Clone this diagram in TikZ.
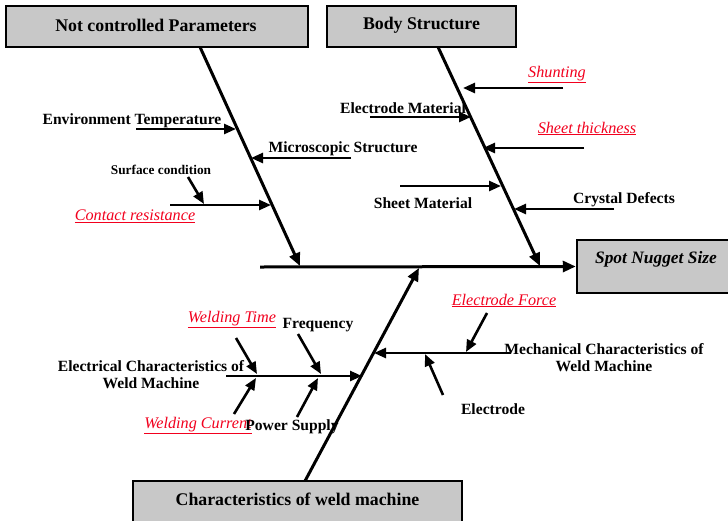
\documentclass[tikz,border=0pt]{standalone}
\usepackage{fontspec}
\setmainfont{Liberation Serif}
\usetikzlibrary{arrows.meta}
\definecolor{boxgray}{HTML}{C8C8C8}
\definecolor{lblred}{HTML}{F2001E}
\newcommand{\rl}[1]{\underline{#1}}
\begin{document}
\begin{tikzpicture}[x=1pt,y=-1pt,
  catbox/.style={draw=black, line width=2.5pt, fill=boxgray, inner sep=0pt},
  cattext/.style={font=\fontsize{17.8}{20}\selectfont\bfseries, inner sep=0pt},
  bone/.style={line width=3pt, -{Triangle[length=13pt,width=11pt]}},
  sub/.style={line width=2.6pt, -{Triangle[length=12pt,width=10pt]}},
  lbl/.style={font=\fontsize{15.6}{17}\selectfont\bfseries, inner sep=0pt, align=center, yshift=-2pt},
  slbl/.style={font=\fontsize{13.3}{15}\selectfont\bfseries, inner sep=0pt, yshift=-1pt},
  rlbl/.style={font=\fontsize{16.2}{18}\selectfont\itshape, text=lblred, inner sep=0pt, yshift=-1.5pt},
]
\useasboundingbox[fill=white] (0,0) rectangle (728,520);

% category boxes
\node[catbox, minimum width=302pt, minimum height=41pt] (ncp) at (157,26.5) {};
\node[cattext] (ncpt) at (156,25) {Not controlled Parameters};
\node[catbox, minimum width=189pt, minimum height=41pt] (bs) at (421.5,26.5) {};
\node[cattext] (bst) at (421.5,25) {Body Structure};
\node[catbox, minimum width=170pt, minimum height=53pt] (sns) at (662,266.5) {};
\node[cattext, font=\fontsize{17.4}{20}\selectfont\bfseries\itshape] (snst) at (656,259) {Spot Nugget Size};
\node[catbox, minimum width=329pt, minimum height=60pt] (cwm) at (297.5,511) {};
\node[cattext] (cwmt) at (297.5,499) {Characteristics of weld machine};

% spine and main bones
\coordinate (spL) at (260,267);
\coordinate (b1) at (300,266);
\coordinate (b2) at (540,266);
\coordinate (b3) at (419,268);
\draw[bone] (spL) -- (sns.west);
\draw[bone] (200,47) coordinate (b1s) -- (b1);
\draw[bone] (438,47) coordinate (b2s) -- (b2);
\draw[bone] (305,481) coordinate (b3s) -- (b3);

% --- Not controlled parameters
\node[lbl] (envT) at (132,119) {Environment Temperature};
\coordinate (envS) at (136,129); \coordinate (envE) at (236,129);
\draw[sub] (envS) -- (envE);
\node[lbl] (mic) at (343,147) {Microscopic Structure};
\coordinate (micS) at (351,158); \coordinate (micE) at (251,158);
\draw[sub] (micS) -- (micE);
\node[slbl] (surf) at (161,169) {Surface condition};
\node[rlbl] (cres) at (135,215) {\rl{Contact resistance}};
\coordinate (cresS) at (170,205); \coordinate (cresE) at (271,205);
\draw[sub] (cresS) -- (cresE);
\coordinate (surfS) at (188,177); \coordinate (surfE) at (204,204);
\draw[sub] (surfS) -- (surfE);

% --- Body structure
\node[rlbl] (shunt) at (557,73) {\rl{Shunting}};
\coordinate (shS) at (563,88); \coordinate (shE) at (463,88);
\draw[sub] (shS) -- (shE);
\node[lbl] (elm) at (403,106) {Electrode Material};
\coordinate (elmS) at (370,117); \coordinate (elmE) at (471,117);
\draw[sub] (elmS) -- (elmE);
\node[rlbl] (sth) at (587,127) {\rl{Sheet thickness}};
\coordinate (sthS) at (584,148); \coordinate (sthE) at (483,148);
\draw[sub] (sthS) -- (sthE);
\node[lbl] (shm) at (423,201) {Sheet Material};
\coordinate (shmS) at (400,186); \coordinate (shmE) at (501,186);
\draw[sub] (shmS) -- (shmE);
\node[lbl] (cry) at (624,198) {Crystal Defects};
\coordinate (cryS) at (614,209); \coordinate (cryE) at (514,209);
\draw[sub] (cryS) -- (cryE);

% --- Weld machine: electrical
\node[lbl] (elec) at (151,373) {Electrical Characteristics of\\Weld Machine};
\coordinate (elecS) at (226,376); \coordinate (elecE) at (362,376);
\draw[sub] (elecS) -- (elecE);
\node[rlbl] (wt) at (232,318) {\rl{Welding Time}};
\coordinate (wtS) at (236,338); \coordinate (wtE) at (257,374);
\draw[sub] (wtS) -- (wtE);
\node[rlbl] (wc) at (198,424) {\rl{Welding Current}};
\coordinate (wcS) at (234,414); \coordinate (wcE) at (256,378);
\draw[sub] (wcS) -- (wcE);
\node[lbl] (freq) at (318,323) {Frequency};
\coordinate (frS) at (298,334); \coordinate (frE) at (321,374);
\draw[sub] (frS) -- (frE);
\node[lbl] (pws) at (292,425) {Power Supply};
\coordinate (pwS) at (297,417); \coordinate (pwE) at (318,378);
\draw[sub] (pwS) -- (pwE);

% --- Weld machine: mechanical
\node[lbl] (mech) at (604,356) {Mechanical Characteristics of\\Weld Machine};
\coordinate (mechS) at (511,353); \coordinate (mechE) at (374,353);
\draw[sub] (mechS) -- (mechE);
\node[rlbl] (ef) at (504,299) {\rl{Electrode Force}};
\coordinate (efS) at (487,313); \coordinate (efE) at (466,352);
\draw[sub] (efS) -- (efE);
\node[lbl] (eld) at (493,407) {Electrode};
\coordinate (eldS) at (443,395); \coordinate (eldE) at (425,354);
\draw[sub] (eldS) -- (eldE);
\end{tikzpicture}
\end{document}
